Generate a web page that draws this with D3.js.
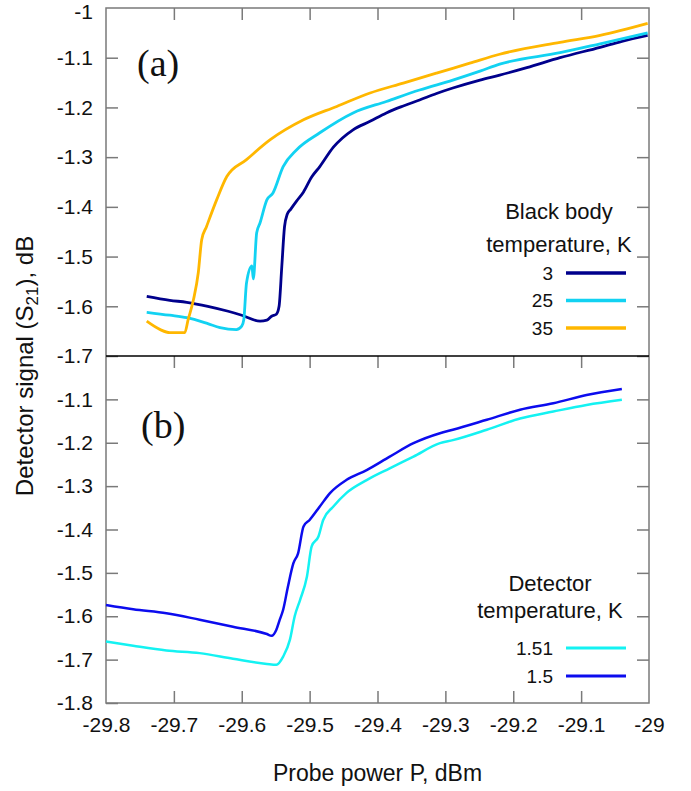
<!DOCTYPE html>
<html>
<head>
<meta charset="utf-8">
<script src="https://cdn.jsdelivr.net/npm/d3@7"></script>
<style>
  body { margin: 0; background: #fff; }
  svg text { font-family: "Liberation Sans", Arial, sans-serif; fill: #111; }
  .panel-label { font-family: "Liberation Serif", "Times New Roman", serif; }
</style>
</head>
<body>
<svg id="chart"></svg>
<script>
// (a) black body temperature sweep
var bbNames = ["3", "25", "35"];
var bbColors = ["#00008c", "#12d2f2", "#ffb700"];

var p3 = [-29.740, -29.706, -29.681, -29.650, -29.620, -29.600, -29.573, -29.563, -29.556, -29.549,
          -29.545, -29.541, -29.537, -29.533, -29.528, -29.519, -29.509, -29.497, -29.485, -29.465,
          -29.436, -29.411, -29.387, -29.362, -29.338, -29.313, -29.289, -29.249, -29.220, -29.180,
          -29.131, -29.072, -29.040, -29.002];
var s3 = [-1.580, -1.588, -1.592, -1.600, -1.610, -1.618, -1.630, -1.628, -1.620, -1.616,
          -1.600, -1.520, -1.440, -1.415, -1.405, -1.388, -1.370, -1.340, -1.319, -1.280,
          -1.245, -1.228, -1.211, -1.197, -1.185, -1.172, -1.161, -1.145, -1.135, -1.120,
          -1.100, -1.079, -1.067, -1.055];

var p25 = [-29.740, -29.706, -29.681, -29.650, -29.632, -29.608, -29.600, -29.597, -29.593, -29.585,
           -29.583, -29.578, -29.573, -29.563, -29.554, -29.539, -29.519, -29.485, -29.436, -29.387,
           -29.338, -29.289, -29.249, -29.220, -29.131, -29.072, -29.002];
var s25 = [-1.612, -1.618, -1.623, -1.635, -1.643, -1.647, -1.640, -1.627, -1.553, -1.519,
           -1.545, -1.452, -1.432, -1.386, -1.372, -1.319, -1.285, -1.251, -1.211, -1.188,
           -1.165, -1.145, -1.127, -1.113, -1.090, -1.072, -1.050];

var p35 = [-29.740, -29.720, -29.706, -29.684, -29.679, -29.671, -29.664, -29.659, -29.652, -29.637,
           -29.622, -29.593, -29.558, -29.509, -29.460, -29.411, -29.362, -29.313, -29.264, -29.220,
           -29.131, -29.072, -29.002];
var s35 = [-1.630, -1.647, -1.653, -1.653, -1.627, -1.586, -1.532, -1.466, -1.440, -1.386,
           -1.339, -1.305, -1.265, -1.225, -1.198, -1.171, -1.151, -1.131, -1.111, -1.093,
           -1.069, -1.055, -1.031];

// (b) detector temperature
var detNames = ["1.51", "1.5"];
var detColors = ["#14f2f2", "#0c0cee"];

var p151 = [-29.800, -29.760, -29.711, -29.662, -29.613, -29.563, -29.549, -29.539, -29.529, -29.522,
            -29.514, -29.504, -29.497, -29.487, -29.480, -29.465, -29.446, -29.416, -29.382, -29.347,
            -29.308, -29.289, -29.239, -29.190, -29.141, -29.092, -29.040];
var s151 = [-1.658, -1.668, -1.679, -1.685, -1.698, -1.710, -1.712, -1.693, -1.654, -1.600,
            -1.562, -1.509, -1.439, -1.416, -1.378, -1.347, -1.316, -1.286, -1.259, -1.232,
            -1.201, -1.194, -1.170, -1.144, -1.128, -1.113, -1.101];

var p15 = [-29.800, -29.760, -29.711, -29.662, -29.613, -29.563, -29.556, -29.549, -29.544, -29.539,
           -29.532, -29.524, -29.517, -29.509, -29.500, -29.485, -29.470, -29.446, -29.416, -29.382,
           -29.347, -29.308, -29.289, -29.239, -29.190, -29.141, -29.092, -29.040];
var s15 = [-1.574, -1.584, -1.593, -1.608, -1.624, -1.641, -1.645, -1.631, -1.608, -1.585,
           -1.532, -1.478, -1.455, -1.393, -1.378, -1.347, -1.316, -1.286, -1.263, -1.232,
           -1.201, -1.178, -1.170, -1.147, -1.124, -1.109, -1.090, -1.076];

// tick values
var xTicks = [-29.8, -29.7, -29.6, -29.5, -29.4, -29.3, -29.2, -29.1, -29];
var xInner = [-29.7, -29.6, -29.5, -29.4, -29.3, -29.2, -29.1];
var yTicksA = [-1, -1.1, -1.2, -1.3, -1.4, -1.5, -1.6, -1.7];
var yTicksB = [-1.1, -1.2, -1.3, -1.4, -1.5, -1.6, -1.7, -1.8];

var width = 691, height = 791;
var plotL = 106, plotR = 649, plotT = 8, plotM = 356, plotB = 703;
var tick = 12;
var frameColor = "#7a7a7a";

var svg = d3.select("#chart").attr("width", width).attr("height", height);

var x = d3.scaleLinear().domain([-29.8, -29]).range([plotL, plotR]);
var yA = d3.scaleLinear().domain([-1.7, -1]).range([plotM, plotT]);
var yB = d3.scaleLinear().domain([-1.8, -1]).range([plotB, plotM]);

function fmt(d) { return String(+d.toFixed(1)); }

function styleAxis(g) {
    g.select(".domain").remove();
    g.selectAll(".tick line").attr("stroke", frameColor).attr("stroke-width", 1.5);
    g.selectAll(".tick text")
        .attr("fill", "#111")
        .style("font-size", "21px")
        .style("font-family", "'Liberation Sans', Arial, sans-serif");
}

// left axes with labels, ticks pointing in
svg.append("g").attr("transform", "translate(" + plotL + ",0)")
    .call(d3.axisLeft(yA).tickValues(yTicksA.slice(1)).tickFormat(fmt).tickSize(-tick).tickPadding(13))
    .call(styleAxis);
// "-1" at the very top, no tick there (nudged down so it isn't clipped)
svg.append("text").attr("x", plotL - 13).attr("y", yA(-1) + 4).attr("dy", "0.32em")
    .attr("text-anchor", "end").style("font-size", "21px").text(fmt(yTicksA[0]));

svg.append("g").attr("transform", "translate(" + plotL + ",0)")
    .call(d3.axisLeft(yB).tickValues(yTicksB).tickFormat(fmt).tickSize(-tick).tickPadding(13))
    .call(styleAxis);

// right axes, ticks only
svg.append("g").attr("transform", "translate(" + plotR + ",0)")
    .call(d3.axisRight(yA).tickValues(yTicksA.slice(1)).tickFormat("").tickSize(-tick))
    .call(styleAxis);
svg.append("g").attr("transform", "translate(" + plotR + ",0)")
    .call(d3.axisRight(yB).tickValues(yTicksB.slice(0, 7)).tickFormat("").tickSize(-tick))
    .call(styleAxis);

// top of (a), top of (b) (hanging from the divider), bottom of (b)
svg.append("g").attr("transform", "translate(0," + plotT + ")")
    .call(d3.axisTop(x).tickValues(xInner).tickFormat("").tickSize(-tick))
    .call(styleAxis);
svg.append("g").attr("transform", "translate(0," + plotM + ")")
    .call(d3.axisTop(x).tickValues(xInner).tickFormat("").tickSize(-tick))
    .call(styleAxis);
svg.append("g").attr("transform", "translate(0," + plotB + ")")
    .call(d3.axisBottom(x).tickValues(xInner).tickFormat("").tickSize(-tick))
    .call(styleAxis);
svg.append("g").attr("transform", "translate(0," + plotB + ")")
    .call(d3.axisBottom(x).tickValues(xTicks).tickFormat(fmt).tickSize(0).tickPadding(14))
    .call(styleAxis);

// frame + divider
svg.append("rect")
    .attr("x", plotL).attr("y", plotT)
    .attr("width", plotR - plotL).attr("height", plotB - plotT)
    .attr("fill", "none").attr("stroke", frameColor).attr("stroke-width", 1.5);
svg.append("line")
    .attr("x1", plotL).attr("x2", plotR).attr("y1", plotM).attr("y2", plotM)
    .attr("stroke", "#000").attr("stroke-width", 1.3);

// curves
function pairs(px, sy) { return px.map(function(p, i) { return [p, sy[i]]; }); }

var lineA = d3.line().curve(d3.curveMonotoneX)
    .x(function(d) { return x(d[0]); }).y(function(d) { return yA(d[1]); });
var lineB = d3.line().curve(d3.curveMonotoneX)
    .x(function(d) { return x(d[0]); }).y(function(d) { return yB(d[1]); });

var seriesA = [pairs(p3, s3), pairs(p25, s25), pairs(p35, s35)];
var seriesB = [pairs(p151, s151), pairs(p15, s15)];

svg.append("g").selectAll("path")
    .data(seriesA)
    .enter().append("path")
    .attr("d", lineA)
    .attr("fill", "none")
    .attr("stroke", function(d, i) { return bbColors[i]; })
    .attr("stroke-width", 2.8)
    .attr("stroke-linejoin", "round");

// draw 1.51 first so 1.5 sits on top
svg.append("g").selectAll("path")
    .data(seriesB)
    .enter().append("path")
    .attr("d", lineB)
    .attr("fill", "none")
    .attr("stroke", function(d, i) { return detColors[i]; })
    .attr("stroke-width", 2.5)
    .attr("stroke-linejoin", "round");

// panel letters
svg.append("text").attr("class", "panel-label").attr("x", 137).attr("y", 76)
    .style("font-size", "38px").text("(a)");
svg.append("text").attr("class", "panel-label").attr("x", 141).attr("y", 438)
    .style("font-size", "38px").text("(b)");

// legends
function legend(heading, names, colors, hx, hy, hgap, ny, ngap, lw) {
    var g = svg.append("g");
    heading.forEach(function(t, i) {
        g.append("text").attr("x", hx).attr("y", hy + i * hgap)
            .attr("text-anchor", "middle").style("font-size", "22px").text(t);
    });
    names.forEach(function(n, i) {
        var yy = ny + i * ngap;
        g.append("text").attr("x", 553).attr("y", yy).attr("dy", "0.35em")
            .attr("text-anchor", "end").style("font-size", "19px").text(n);
        g.append("line").attr("x1", 566).attr("x2", 626).attr("y1", yy).attr("y2", yy)
            .attr("stroke", colors[i]).attr("stroke-width", lw);
    });
}
legend(["Black body", "temperature, K"], bbNames, bbColors, 559, 219, 33, 273, 27.5, 3.5);
legend(["Detector", "temperature, K"], detNames, detColors, 550, 591, 27, 648, 28, 3);

// axis titles
svg.append("text")
    .attr("x", (plotL + plotR) / 2).attr("y", 781)
    .attr("text-anchor", "middle").style("font-size", "23px")
    .text("Probe power P, dBm");

var yt = svg.append("text")
    .attr("transform", "translate(33,366) rotate(-90)")
    .attr("text-anchor", "middle").style("font-size", "24px");
yt.append("tspan").text("Detector signal (S");
yt.append("tspan").attr("dy", 5).style("font-size", "17px").text("21");
yt.append("tspan").attr("dy", -5).text("), dB");
</script>
</body>
</html>
